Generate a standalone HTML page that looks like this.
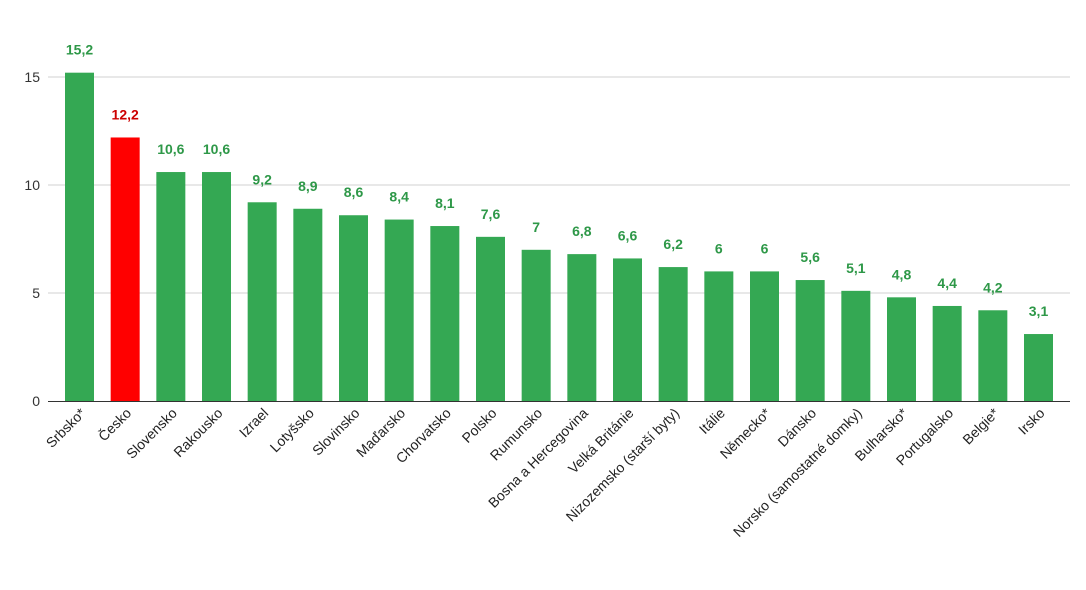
<!DOCTYPE html>
<html><head><meta charset="utf-8"><style>
body{margin:0;background:#fff;}
svg{display:block;font-family:"Liberation Sans",Arial,sans-serif;}
</style></head><body>
<svg id="chart" width="1086" height="590"></svg>
<script>
const categories=["Srbsko*","Česko","Slovensko","Rakousko","Izrael","Lotyšsko","Slovinsko","Maďarsko","Chorvatsko","Polsko","Rumunsko","Bosna a Hercegovina","Velká Británie","Nizozemsko (starší byty)","Itálie","Německo*","Dánsko","Norsko (samostatné domky)","Bulharsko*","Portugalsko","Belgie*","Irsko"];
const values=[15.2,12.2,10.6,10.6,9.2,8.9,8.6,8.4,8.1,7.6,7,6.8,6.6,6.2,6,6,5.6,5.1,4.8,4.4,4.2,3.1];
const highlight=["Česko"];
const yTicks=[0,5,10,15];
const NS="http://www.w3.org/2000/svg";
const svg=document.getElementById('chart');
const y0=401, pxPerUnit=21.6, x0=79.5, step=(1038.5-79.5)/(categories.length-1), bw=29;
const yScale=v=>y0-v*pxPerUnit;
const xScale=i=>x0+i*step;
function mk(tag,attrs){const e=document.createElementNS(NS,tag);for(const k in attrs)e.setAttribute(k,attrs[k]);svg.appendChild(e);return e;}
yTicks.forEach(t=>{
  if(t>0){const g=mk('line',{x1:48,x2:1070,y1:yScale(t),y2:yScale(t),stroke:'#d0d0d0','stroke-width':1});
  
  }
  const l=mk('text',{x:40,y:yScale(t)+5,'text-anchor':'end','font-size':14,fill:'#333'});
  l.textContent=t;
  
  
});
categories.forEach((c,i)=>{
  const v=values[i], hi=highlight.includes(c);
  const col=hi?'#ff0000':'#34a853', tcol=hi?'#cc0000':'#2e9848';
  const r=mk('rect',{x:xScale(i)-bw/2,y:yScale(v),width:bw,height:v*pxPerUnit,fill:col});
  
  
  const t=mk('text',{x:xScale(i),y:yScale(v)-18,'text-anchor':'middle','font-size':14,'font-weight':'bold',fill:tcol});
  t.textContent=String(v).replace('.',',');
  
  
  const cx=xScale(i)+7, cy=414;
  const l=mk('text',{x:cx,y:cy,'text-anchor':'end','font-size':14,fill:'#222',transform:`rotate(-45 ${cx} ${cy})`});
  l.textContent=c;
  
  
});
const ax=mk('line',{x1:48,x2:1070,y1:y0+0.5,y2:y0+0.5,stroke:'#333','stroke-width':1});


</script>
</body></html>
